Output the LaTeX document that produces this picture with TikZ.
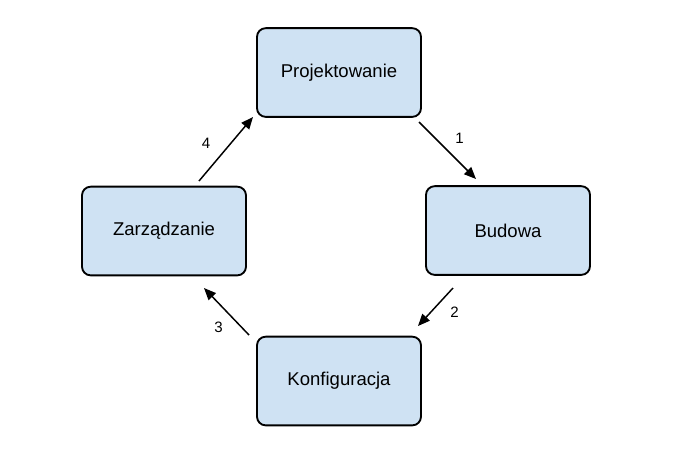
\documentclass[tikz,border=0pt]{standalone}
\usepackage{fontspec}
\setmainfont{Liberation Sans}
\usetikzlibrary{arrows.meta}
\definecolor{boxfill}{HTML}{CFE2F3}
\begin{document}
\begin{tikzpicture}[x=0.75pt,y=-0.75pt,
  stagebox/.style={draw=black, line width=1.4pt, fill=boxfill, rounded corners=6.5pt,
    minimum width=123pt, minimum height=66.5pt, inner sep=0pt,
    font=\fontsize{13.9}{16}\selectfont},
  flow/.style={line width=1.1pt, -{Triangle[length=9pt,width=7.5pt]}},
  numlabel/.style={font=\fontsize{11.3}{13}\selectfont, inner sep=0pt}]
\useasboundingbox (0,0) rectangle (689,455);
\node[stagebox] (P) at (339,72.5) {Projektowanie};
\node[stagebox] (B) at (508,230.5) {Budowa};
\node[stagebox] (Z) at (164,231) {Zarządzanie};
\node[stagebox] (K) at (339,381) {Konfiguracja};
\coordinate (a1s) at (419,122);
\coordinate (a1e) at (476,179);
\coordinate (a2s) at (453,288);
\coordinate (a2e) at (418,326);
\coordinate (a3s) at (249,335);
\coordinate (a3e) at (204,288);
\coordinate (a4s) at (199,181);
\coordinate (a4e) at (253,117);
\draw[flow] (a1s) -- (a1e);
\draw[flow] (a2s) -- (a2e);
\draw[flow] (a3s) -- (a3e);
\draw[flow] (a4s) -- (a4e);
\node[numlabel] (l1) at (459.5,138) {1};
\node[numlabel] (l2) at (454.5,312) {2};
\node[numlabel] (l3) at (218.5,327.5) {3};
\node[numlabel] (l4) at (206,143) {4};
\end{tikzpicture}
\end{document}
